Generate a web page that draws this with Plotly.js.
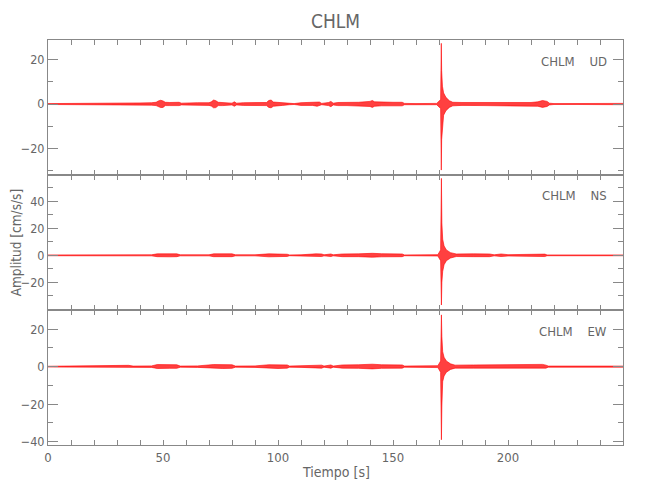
<!DOCTYPE html>
<html>
<head>
<meta charset="utf-8">
<script src="https://cdn.plot.ly/plotly-3.0.1.min.js"></script>
<style>html,body{margin:0;padding:0;background:#fff;}#chart{width:650px;height:500px;}</style>
</head>
<body>
<div id="chart"></div>
<script>
// ---- Data: envelope of each component (time [s], upper, lower amplitude [cm/s/s]) ----
var tUD  = [0,10,20,30,35,40,45,47,48,49,50,51,53,55,57,58,60,65,70,71,72,73,74,76,78,80,81,82,85,90,95,96,97,98,100,102,105,107,110,115,117,118,119,122,123,124,126,130,135,140,141,142,145,150,154,155,160,165,169,170.7,170.9,171,171.15,171.5,172,173,174.5,176,180,190,200,210,213,215,217,218,220,230,240,250];
var upUD = [0.2,0.2,0.3,0.3,0.5,0.5,0.6,0.8,1.4,1.7,1.4,0.8,0.7,0.8,0.8,0.4,0.5,0.6,0.6,1.0,1.8,1.5,0.8,0.7,0.6,0.4,1.0,0.4,0.6,0.6,0.7,1.6,1.8,0.9,0.7,0.6,0.3,0.2,0.6,0.7,1.0,0.9,0.3,0.7,1.2,0.4,0.7,0.7,0.8,1.2,1.6,1.0,0.8,0.8,0.8,0.3,0.2,0.2,0.3,2,12,27.3,15,8,5,3,1.5,0.8,0.7,0.6,0.7,0.7,1.0,1.6,1.2,0.4,0.2,0.2,0.3,0.3];
var loUD = [-0.2,-0.2,-0.3,-0.3,-0.5,-0.5,-0.5,-0.7,-1.3,-1.6,-1.5,-0.7,-0.7,-0.8,-0.7,-0.4,-0.4,-0.6,-0.6,-0.9,-1.7,-1.6,-0.7,-0.7,-0.6,-0.4,-1.0,-0.4,-0.6,-0.6,-0.7,-1.5,-1.7,-1.0,-0.7,-0.6,-0.3,-0.2,-0.6,-0.6,-1.0,-0.8,-0.3,-0.7,-1.2,-0.4,-0.7,-0.7,-0.8,-1.1,-1.5,-1.0,-0.8,-0.7,-0.8,-0.3,-0.2,-0.2,-0.3,-2,-12,-29.7,-16,-9,-5,-3,-1.5,-0.8,-0.6,-0.7,-0.7,-0.7,-1.0,-1.5,-1.1,-0.4,-0.2,-0.2,-0.3,-0.3];

var tNS  = [0,20,30,35,37,45,47.5,50,53,56,57.5,60,70,72,76,80,81.5,90,96,100,103,104,105,110,116.5,119,120,123,124,128,135,141,145,154,155,165,169.5,170.7,170.9,171.05,171.25,171.6,172.2,173.2,175,177.5,185,192,194,197,200,210,214,216,217,230,250];
var upNS = [0.3,0.3,0.4,0.8,0.4,0.4,1.1,1.2,1.3,1.1,0.4,0.4,0.4,1.1,1.2,1.1,0.4,0.4,1.1,1.2,1.1,0.8,0.3,0.4,1.1,1.0,0.4,1.0,0.4,1.0,1.1,1.5,1.2,1.0,0.3,0.3,0.5,4,30,57,24,12,7,4,2,1.0,1.1,1.0,0.4,1.0,0.5,0.6,1.0,0.9,0.3,0.3,0.3];
var loNS = [-0.3,-0.3,-0.4,-0.7,-0.4,-0.4,-1.0,-1.2,-1.1,-1.0,-0.4,-0.4,-0.4,-1.0,-1.1,-1.0,-0.4,-0.4,-1.1,-1.1,-1.0,-0.8,-0.3,-0.4,-1.0,-0.9,-0.4,-0.9,-0.4,-1.0,-1.0,-1.4,-1.1,-1.0,-0.3,-0.3,-0.5,-4,-20,-36.8,-20,-12,-7,-4,-2,-0.9,-1.0,-1.0,-0.4,-0.9,-0.5,-0.6,-0.9,-0.9,-0.3,-0.3,-0.3];

var tEW  = [0,20,30,35,37,45,47.5,50,53,56,57.5,65,72,76,80,81.5,90,96,100,104,105,110,116,119,120,123,124,128,135,141,145,154,155,165,169.5,170.7,170.9,171.05,171.25,171.6,172.2,173.2,175,177,185,194,200,210,215,216.5,217.5,230,250];
var upEW = [0.2,0.3,0.3,0.7,0.3,0.4,1.1,1.1,1.0,1.0,0.3,0.4,1.1,1.0,1.0,0.3,0.4,1.0,1.0,0.9,0.3,0.4,0.9,0.8,0.3,0.9,0.3,0.9,1.0,1.3,1.0,0.9,0.3,0.3,0.5,3,18,27.6,16,8,5,3,1.5,0.8,0.9,1.0,0.8,0.9,1.2,0.8,0.3,0.3,0.3];
var loEW = [-0.2,-0.3,-0.3,-0.6,-0.3,-0.4,-1.0,-1.1,-0.9,-0.9,-0.3,-0.4,-1.0,-1.0,-0.9,-0.3,-0.4,-0.9,-1.0,-0.8,-0.3,-0.4,-0.8,-0.8,-0.3,-0.8,-0.3,-0.8,-0.9,-1.2,-0.9,-0.8,-0.3,-0.3,-0.5,-3,-23,-39,-21,-8,-5,-3,-1.5,-0.8,-0.8,-1.0,-0.8,-0.8,-1.1,-0.8,-0.3,-0.3,-0.3];

var station = "CHLM";
var components = ["UD", "NS", "EW"];
var xTitle = "Tiempo [s]";
var yTitle = "Amplitud [cm/s/s]";
var xTickVals = [0, 50, 100, 150, 200];
var yTickVals = [[-20, 0, 20], [-20, 0, 20, 40], [-40, -20, 0, 20]];

// ---- Styles ----
var RED = "rgb(255,0,0)";
var FILL = "rgba(255,0,0,0.75)";
var GREY = "#888";
var TXT = "#666";
var FONT = "'DejaVu Sans Condensed', 'Liberation Sans Narrow', 'Roboto', sans-serif";

var panels = [
  {t: tUD, up: upUD, lo: loUD, ax: "", range: [-31.9, 28.8], dom: [0.6667, 1]},
  {t: tNS, up: upNS, lo: loNS, ax: "2", range: [-40.5, 59.5], dom: [0.3333, 0.6667]},
  {t: tEW, up: upEW, lo: loEW, ax: "3", range: [-41.8, 30.2], dom: [0, 0.3333]}
];

var data = [];
var layout = {
  width: 650, height: 500,
  margin: {l: 48, r: 27, t: 40, b: 55},
  paper_bgcolor: "#fff", plot_bgcolor: "#fff",
  showlegend: false,
  font: {family: FONT, color: TXT, size: 13},
  title: {text: station, x: 0.5, xref: "paper", xanchor: "center", y: 0.958, yref: "container", yanchor: "middle",
          font: {family: FONT, size: 19, color: TXT}},
  annotations: []
};

var annY = [0.948, 0.615, 0.281];
panels.forEach(function (p, i) {
  var xa = "x" + p.ax, ya = "y" + p.ax;
  data.push({type: "scatter", mode: "lines", x: p.t, y: p.up, xaxis: xa, yaxis: ya,
             line: {color: RED, width: 0.6}, hoverinfo: "skip"});
  data.push({type: "scatter", mode: "lines", x: p.t, y: p.lo, xaxis: xa, yaxis: ya,
             fill: "tonexty", fillcolor: FILL, line: {color: RED, width: 0.6}, hoverinfo: "skip"});
  var xk = "xaxis" + p.ax, yk = "yaxis" + p.ax;
  layout[xk] = {
    range: [0, 250], anchor: ya, domain: [0, 1],
    showline: true, linecolor: GREY, linewidth: 1, mirror: "allticks",
    ticks: "inside", ticklen: 5, tickcolor: GREY, tickvals: xTickVals,
    minor: {ticks: "inside", ticklen: 5, dtick: 10, tick0: 0, tickcolor: GREY, showgrid: false},
    showticklabels: false, showgrid: false, zeroline: false
  };
  layout[yk] = {
    range: p.range, domain: p.dom, anchor: xa,
    showline: true, linecolor: GREY, linewidth: 1, mirror: "allticks",
    ticks: "inside", ticklen: 10, tickcolor: GREY, tickvals: yTickVals[i],
    minor: {ticks: "inside", ticklen: 5, dtick: 10, tick0: 0, tickcolor: GREY, showgrid: false},
    showgrid: false, zeroline: false,
    tickfont: {family: FONT, size: 12.5, color: TXT}
  };
  layout.annotations.push({
    text: station + "&nbsp;&nbsp;&nbsp;&nbsp;" + components[i], xref: "paper", yref: "paper",
    x: 0.975, y: annY[i], xanchor: "right", yanchor: "middle", showarrow: false,
    font: {family: FONT, size: 13, color: TXT}
  });
});
layout.xaxis3.showticklabels = true;
layout.xaxis3.tickfont = {family: FONT, size: 13, color: TXT};

layout.annotations.push({text: xTitle, xref: "paper", yref: "paper", x: 0.5, y: -0.067,
  xanchor: "center", yanchor: "middle", showarrow: false, font: {family: FONT, size: 14, color: TXT}});
layout.annotations.push({text: yTitle, xref: "paper", yref: "paper", x: -0.056, y: 0.5,
  xanchor: "center", yanchor: "middle", textangle: -90, showarrow: false, font: {family: FONT, size: 13.5, color: TXT}});

Plotly.newPlot("chart", data, layout, {displayModeBar: false, staticPlot: true});
</script>
</body>
</html>
